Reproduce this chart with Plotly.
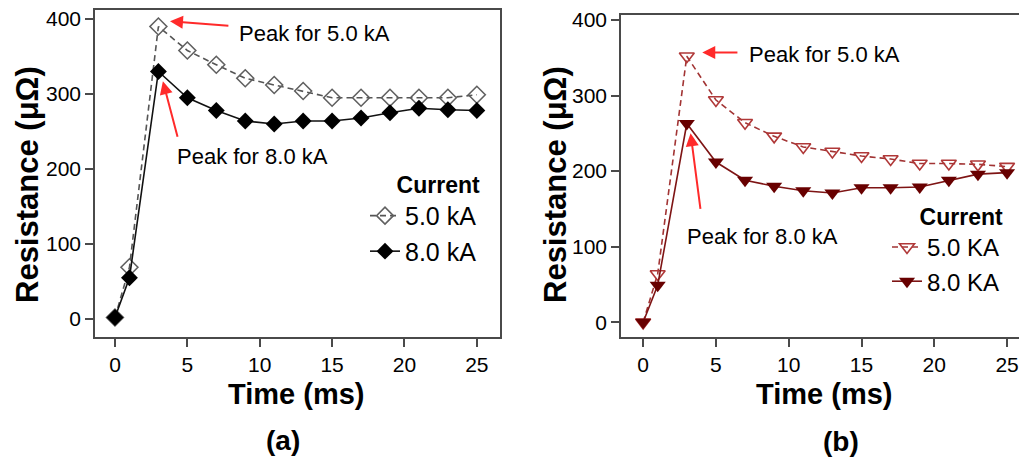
import plotly.graph_objects as go

# ---- data ----
time_ms = [0, 1, 3, 5, 7, 9, 11, 13, 15, 17, 19, 21, 23, 25]

# panel (a)
a_5kA = [2, 69, 390, 358, 339, 321, 312, 304, 295, 295, 295, 295, 295, 299]
a_8kA = [2, 55, 330, 295, 278, 264, 260, 264, 264, 268, 275, 281, 279, 278]

# panel (b)
b_5kA = [0, 64, 352, 294, 264, 246, 232, 226, 220, 216, 210, 210, 209, 206]
b_8kA = [0, 49, 263, 212, 188, 180, 174, 171, 178, 178, 179, 188, 196, 198]

x_ticks = [0, 5, 10, 15, 20, 25]
y_ticks = [0, 100, 200, 300, 400]

FONT = "Liberation Sans"
W, H = 1019, 450
OFF = 8  # page body margin


def px(v):
    return min(1.0, max(0.0, (v - OFF) / W))


def py(v):
    return min(1.0, max(0.0, 1 - (v - OFF) / H))


fig = go.Figure()

# panel (a) traces
fig.add_trace(go.Scatter(
    x=time_ms, y=a_5kA, name="5.0 kA", mode="lines+markers",
    line=dict(color="#555555", width=1.6, dash="6px,4px"),
    marker=dict(symbol="diamond-open", size=13, color="#606060", line=dict(width=1.6)),
    xaxis="x", yaxis="y", legend="legend"))
fig.add_trace(go.Scatter(
    x=time_ms, y=a_8kA, name="8.0 kA", mode="lines+markers",
    line=dict(color="#111111", width=1.6),
    marker=dict(symbol="diamond", size=13, color="#000000"),
    xaxis="x", yaxis="y", legend="legend"))

# panel (b) traces
fig.add_trace(go.Scatter(
    x=time_ms, y=b_5kA, name="5.0 KA", mode="lines+markers",
    line=dict(color="#a23434", width=1.6, dash="6px,4px"),
    marker=dict(symbol="triangle-down-open", size=13, color="#b03838", line=dict(width=1.6)),
    xaxis="x2", yaxis="y2", legend="legend2"))
fig.add_trace(go.Scatter(
    x=time_ms, y=b_8kA, name="8.0 KA", mode="lines+markers",
    line=dict(color="#7e1414", width=1.6),
    marker=dict(symbol="triangle-down", size=14, color="#680000"),
    xaxis="x2", yaxis="y2", legend="legend2"))

axis_common = dict(
    showgrid=False, zeroline=False, showline=True, mirror=True,
    linecolor="#4a4a4a", linewidth=1.5, ticks="outside", ticklen=8,
    tickwidth=1.5, tickcolor="#4a4a4a", automargin=False,
    ticklabeloverflow="allow",
    tickfont=dict(family=FONT, size=21, color="#000000"))

fig.update_layout(
    width=W, height=H,
    margin=dict(l=0, r=0, t=0, b=0),
    paper_bgcolor="white", plot_bgcolor="white",
    font=dict(family=FONT, color="#000000"),
    xaxis=dict(domain=[px(95), px(500)], range=[-1.38, 26.6], tickvals=x_ticks,
               anchor="y", **axis_common),
    yaxis=dict(domain=[py(337), py(10)], range=[-24.0, 412.0], tickvals=y_ticks,
               anchor="x", **axis_common),
    xaxis2=dict(domain=[px(621), px(1026)], range=[-1.52, 26.3], tickvals=x_ticks,
                anchor="y2", **axis_common),
    yaxis2=dict(domain=[py(337), py(15)], range=[-19.4, 406.5], tickvals=y_ticks,
                anchor="x2", **axis_common),
    legend=dict(x=px(365), xanchor="left", y=py(163), yanchor="top",
                bgcolor="rgba(0,0,0,0)", font=dict(family=FONT, size=25),
                title=dict(text="<b>Current</b>", side="top right",
                           font=dict(family=FONT, size=23)),
                tracegroupgap=0),
    legend2=dict(x=px(887), xanchor="left", y=py(195), yanchor="top",
                 bgcolor="rgba(0,0,0,0)", font=dict(family=FONT, size=24),
                 title=dict(text="<b>Current</b>", side="top right",
                            font=dict(family=FONT, size=23)),
                 tracegroupgap=0),
    showlegend=True,
)

ann = []
arrow_color = "#ff2a2a"
# arrows (head at x,y ; tail at ax,ay) in data coordinates
arrows = [
    ("x", "y", 3.80, 397, 7.94, 391),
    ("x", "y", 3.31, 317, 4.35, 241),
    ("x2", "y2", 4.06, 357, 6.58, 357),
    ("x2", "y2", 3.26, 250, 3.95, 148),
]
for xr, yr, hx, hy, tx, ty in arrows:
    ann.append(dict(xref=xr, yref=yr, axref=xr, ayref=yr, x=hx, y=hy, ax=tx, ay=ty,
                    text="", showarrow=True, arrowhead=2, arrowsize=1.3, arrowwidth=2,
                    arrowcolor=arrow_color))

labels = [
    ("x", "y", 8.43, 381, "Peak for 5.0 kA"),
    ("x", "y", 4.14, 217, "Peak for 8.0 kA"),
    ("x2", "y2", 7.11, 354, "Peak for 5.0 kA"),
    ("x2", "y2", 2.91, 113, "Peak for 8.0 kA"),
]
for xr, yr, lx, ly, t in labels:
    ann.append(dict(xref=xr, yref=yr, x=lx, y=ly, text=t, showarrow=False,
                    xanchor="left", yanchor="middle",
                    font=dict(family=FONT, size=22, color="#000000")))

# axis titles and panel labels
for cx in (296, 824):
    ann.append(dict(xref="paper", yref="paper", x=px(cx), y=py(394), text="<b>Time (ms)</b>",
                    showarrow=False, xanchor="center", yanchor="middle",
                    font=dict(family=FONT, size=29)))
for cx, cy, t in ((283, 440, "<b>(a)</b>"), (841, 441, "<b>(b)</b>")):
    ann.append(dict(xref="paper", yref="paper", x=px(cx), y=py(cy), text=t,
                    showarrow=False, xanchor="center", yanchor="middle",
                    font=dict(family=FONT, size=28)))
for cx in (27, 555):
    ann.append(dict(xref="paper", yref="paper", x=px(cx), y=py(185),
                    text="<b>Resistance (μΩ)</b>",
                    showarrow=False, xanchor="center", yanchor="middle", textangle=-90,
                    font=dict(family=FONT, size=31)))

fig.update_layout(annotations=ann)

fig.write_html("out.html")
